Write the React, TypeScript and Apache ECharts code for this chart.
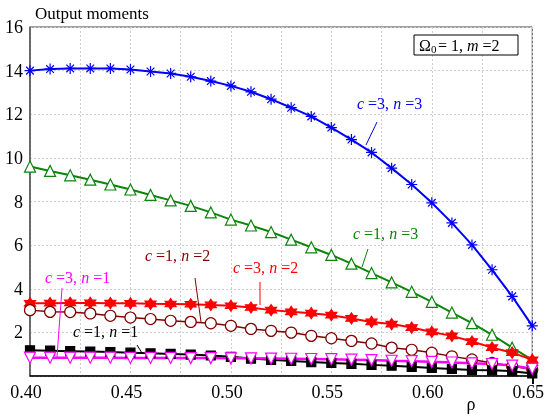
import React, { useEffect, useRef } from 'react';
import * as echarts from 'echarts';

const rho = [0.40, 0.41, 0.42, 0.43, 0.44, 0.45, 0.46, 0.47, 0.48, 0.49, 0.50, 0.51, 0.52, 0.53, 0.54, 0.55, 0.56, 0.57, 0.58, 0.59, 0.60, 0.61, 0.62, 0.63, 0.64, 0.65];

const c3n3 = [14.0, 14.07, 14.1, 14.1, 14.1, 14.05, 13.96, 13.87, 13.72, 13.52, 13.3, 13.03, 12.69, 12.3, 11.9, 11.39, 10.84, 10.25, 9.53, 8.78, 7.94, 7.02, 6.01, 4.87, 3.65, 2.3];
const c1n3 = [9.6, 9.4, 9.2, 9.0, 8.78, 8.55, 8.3, 8.05, 7.8, 7.5, 7.17, 6.9, 6.6, 6.25, 5.9, 5.55, 5.15, 4.72, 4.29, 3.86, 3.4, 2.91, 2.42, 1.89, 1.3, 0.74];
const c3n2 = [3.33, 3.34, 3.35, 3.35, 3.34, 3.33, 3.31, 3.3, 3.29, 3.26, 3.22, 3.14, 3.02, 2.94, 2.88, 2.79, 2.64, 2.48, 2.38, 2.22, 2.02, 1.84, 1.58, 1.3, 1.07, 0.74];
const c1n2 = [3.02, 2.94, 2.93, 2.87, 2.76, 2.68, 2.61, 2.53, 2.48, 2.42, 2.3, 2.16, 2.07, 1.99, 1.84, 1.73, 1.61, 1.49, 1.3, 1.2, 1.07, 0.9, 0.76, 0.6, 0.45, 0.3];
const c1n1 = [1.18, 1.16, 1.14, 1.12, 1.1, 1.07, 1.04, 1.01, 0.98, 0.94, 0.88, 0.8, 0.74, 0.69, 0.64, 0.6, 0.56, 0.51, 0.47, 0.42, 0.37, 0.32, 0.28, 0.26, 0.22, 0.12];
const c3n1 = [0.84, 0.84, 0.84, 0.84, 0.84, 0.83, 0.83, 0.83, 0.82, 0.82, 0.81, 0.81, 0.8, 0.79, 0.78, 0.77, 0.75, 0.73, 0.7, 0.68, 0.65, 0.62, 0.58, 0.55, 0.48, 0.33];

const SERIF = '"Liberation Serif", "Times New Roman", Times, serif';

const ASTERISK = 'path://M0,-6 L0,6 M-6,0 L6,0 M-4.2,-4.2 L4.2,4.2 M-4.2,4.2 L4.2,-4.2';
const STAR6 = 'path://M0,-10 L2.9,-5 L8.66,-5 L5.8,0 L8.66,5 L2.9,5 L0,10 L-2.9,5 L-8.66,5 L-5.8,0 L-8.66,-5 L-2.9,-5 Z';
const INV_TRI = 'path://M-6,-5 L6,-5 L0,5 Z';

function pairs(ys: number[]) {
  return rho.map((x, i) => [x, ys[i]]);
}

function annot(x: number, y: number, cv: string, nv: string, color: string) {
  const base = { fontFamily: SERIF, fontSize: 16, fill: color };
  return {
    type: 'text',
    x,
    y,
    z: 100,
    style: {
      text: `{i|c}{r| =${cv}, }{i|n}{r| =${nv}}`,
      textVerticalAlign: 'middle',
      rich: {
        i: { ...base, fontStyle: 'italic' },
        r: { ...base },
      },
    },
  };
}

function leader(x1: number, y1: number, x2: number, y2: number, color: string, w = 1) {
  return {
    type: 'line',
    z: 100,
    shape: { x1, y1, x2, y2 },
    style: { stroke: color, lineWidth: w },
  };
}

export default function App() {
  const ref = useRef<HTMLDivElement>(null);
  useEffect(() => {
    if (!ref.current) return;
    const chart = echarts.init(ref.current, null, { renderer: 'svg' });
    const mk = (name: string, data: number[], color: string, symbol: string, size: number, fill: string, lw: number) => ({
      name,
      type: 'line',
      data: pairs(data),
      symbol,
      symbolSize: size,
      showSymbol: true,
      lineStyle: { color, width: lw },
      itemStyle: { color: fill, borderColor: color, borderWidth: 1.2 },
      emphasis: { disabled: true },
    });
    chart.setOption({
      animation: false,
      grid: { left: 30, right: 14, top: 27, bottom: 38, show: true, borderColor: '#404040', borderWidth: 1 },
      xAxis: {
        type: 'value',
        min: 0.4,
        max: 0.65,
        interval: 0.025,
        axisLine: { lineStyle: { color: '#000', width: 1.5 } },
        axisTick: { show: false },
        axisLabel: {
          color: '#000',
          fontFamily: SERIF,
          fontSize: 18,
          margin: 7,
          padding: [0, 8, 0, 0],
          formatter: (v: number) => (Math.round(v * 1000) % 50 === 0 ? v.toFixed(2) : ''),
        },
        splitLine: { show: true, lineStyle: { color: '#cdcdcd', type: [2, 2], width: 1 } },
      },
      yAxis: {
        type: 'value',
        min: 0,
        max: 16,
        interval: 2,
        axisLine: { show: true, lineStyle: { color: '#555', width: 1.5 } },
        axisTick: { show: false },
        axisLabel: {
          color: '#000',
          fontFamily: SERIF,
          fontSize: 18,
          margin: 7,
          formatter: (v: number) => (v === 0 ? '' : String(v)),
        },
        splitLine: { show: true, lineStyle: { color: '#cdcdcd', type: [2, 2], width: 1 } },
      },
      series: [
        mk('c=3, n=3', c3n3, '#0000ff', ASTERISK, 11, '#0000ff', 2),
        mk('c=1, n=3', c1n3, '#0a850a', 'triangle', 11, '#ffffff', 2),
        mk('c=3, n=2', c3n2, '#ff0000', STAR6, 11, '#ff0000', 2),
        mk('c=1, n=2', c1n2, '#800000', 'circle', 11, '#ffffff', 1.5),
        mk('c=1, n=1', c1n1, '#000000', 'rect', 9, '#000000', 2),
        mk('c=3, n=1', c3n1, '#ff00ff', INV_TRI, 11, '#ffffff', 2.5),
      ],
      graphic: [
        {
          type: 'text',
          x: 35,
          y: 13,
          style: { text: 'Output moments', fontFamily: SERIF, fontSize: 17, fill: '#000', textVerticalAlign: 'middle' },
        },
        {
          type: 'text',
          x: 471,
          y: 404,
          style: { text: 'ρ', fontFamily: SERIF, fontSize: 18, fill: '#000', textAlign: 'center', textVerticalAlign: 'middle' },
        },
        leader(533, 376, 533, 384, '#000', 2),
        {
          type: 'rect',
          z: 100,
          shape: { x: 414, y: 35, width: 104, height: 20 },
          style: { fill: '#fff', stroke: '#000', lineWidth: 1 },
        },
        {
          type: 'text',
          z: 101,
          x: 419,
          y: 45,
          style: { text: 'Ω', fontFamily: SERIF, fontSize: 16, fill: '#000', textVerticalAlign: 'middle' },
        },
        {
          type: 'text',
          z: 101,
          x: 431,
          y: 49,
          style: { text: '0', fontFamily: SERIF, fontSize: 11, fill: '#000', textVerticalAlign: 'middle' },
        },
        {
          type: 'text',
          z: 101,
          x: 438,
          y: 45,
          style: {
            text: '{r|= 1, }{i|m}{r| =2}',
            textVerticalAlign: 'middle',
            rich: {
              r: { fontFamily: SERIF, fontSize: 16, fill: '#000' },
              i: { fontFamily: SERIF, fontSize: 16, fill: '#000', fontStyle: 'italic' },
            },
          },
        },
        annot(357, 103, '3', '3', '#0000ff'),
        leader(377, 122, 366, 145, '#0000ff'),
        annot(353, 233, '1', '3', '#0a850a'),
        leader(368, 249, 362, 267, '#0a850a'),
        annot(233, 267, '3', '2', '#ff0000'),
        leader(260, 282, 260, 305, '#ff0000'),
        annot(145, 255, '1', '2', '#800000'),
        leader(195, 278, 201, 322, '#800000'),
        annot(45, 277, '3', '1', '#ff00ff'),
        leader(62, 288, 57, 357, '#ff00ff'),
        annot(73, 331, '1', '1', '#000000'),
        leader(137, 345, 142, 353, '#000000'),
      ],
    });
    return () => chart.dispose();
  }, []);
  return <div ref={ref} style={{ position: 'fixed', left: 0, top: 0, width: 547, height: 414 }} />;
}
